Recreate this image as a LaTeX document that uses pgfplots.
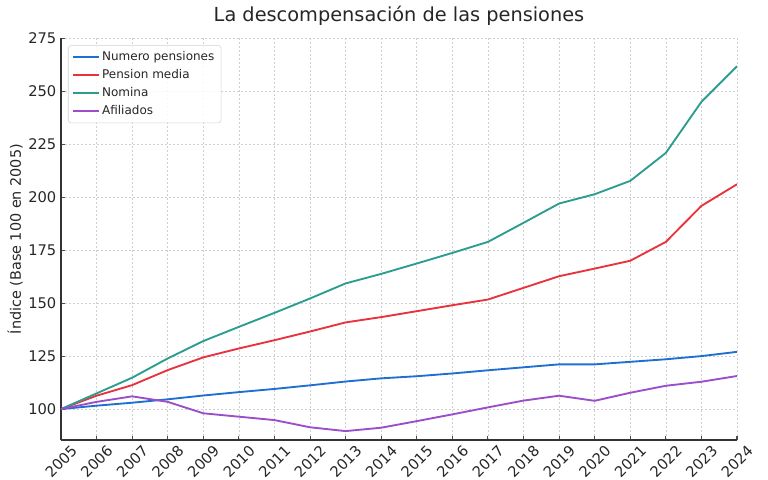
\documentclass[border=0pt]{standalone}
\usepackage{fontspec}
\setmainfont{DejaVu Sans}
\usepackage{pgfplots}
\pgfplotsset{compat=1.18}
\definecolor{cblue}{HTML}{1F6FD0}
\definecolor{cred}{HTML}{E8333F}
\definecolor{cgreen}{HTML}{2A9D8F}
\definecolor{cpurple}{HTML}{9B4DCA}
\definecolor{txt}{HTML}{262626}
\begin{document}
\begin{tikzpicture}
\path[use as bounding box] (-45.75pt,-29.25pt) rectangle (530.25pt,330pt);
\begin{axis}[
  at={(0,0)}, anchor=south west,
  scale only axis, width=507pt, height=301.3pt,
  xmin=2005, xmax=2024, ymin=85.4, ymax=275,
  xtick={2005,2006,...,2024},
  ytick={100,125,...,275},
  /pgf/number format/1000 sep={},
  /pgf/number format/assume math mode=true,
  axis lines*=left,
  axis line style={black!80, line width=1.1pt},
  tick align=inside,
  major tick length=3pt,
  tick style={black!70, line width=0.8pt},
  grid=major,
  grid style={gray!38, dash pattern=on 1.5pt off 1.5pt, line width=0.5pt},
  ticklabel style={font=\fontsize{11}{12.5}\selectfont, text=txt},
  xticklabel style={xshift=7pt, yshift=-3pt, rotate=45, anchor=north east, inner sep=0pt},
  yticklabel style={inner sep=0pt, xshift=-3.3pt},
  title={La descompensación de las pensiones},
  title style={font=\fontsize{14.5}{16}\selectfont, text=txt, at={(0.5,1)}, anchor=base, yshift=6.75pt},
  ylabel={Índice (Base 100 en 2005)},
  ylabel style={font=\fontsize{10.8}{12}\selectfont, text=txt, at={(axis description cs:-0.0592,0.5)}, anchor=base},
  legend style={at={(rel axis cs:0,1)}, anchor=north west, xshift=5.25pt, yshift=-5.25pt,
    draw=gray!35, rounded corners=2pt, fill=white, fill opacity=0.85, text opacity=1,
    font=\fontsize{9}{10.5}\selectfont, text=txt, row sep=1.2pt, inner xsep=3pt, inner ysep=2.5pt},
  legend cell align=left,
  legend image code/.code={\draw[#1, line width=1.4pt] (0pt,0pt) -- (19pt,0pt);},
  every axis plot/.append style={line width=1.4pt},
]
\addplot[cblue] coordinates {
(2005,100) (2006,101.6) (2007,103) (2008,104.6) (2009,106.4) (2010,108) (2011,109.5) (2012,111.2) (2013,113) (2014,114.5)
(2015,115.5) (2016,116.8) (2017,118.3) (2018,119.7) (2019,121.1) (2020,121.1) (2021,122.3) (2022,123.5) (2023,125) (2024,127)
};
\addlegendentry{Numero pensiones}
\addplot[cred] coordinates {
(2005,100) (2006,106.3) (2007,111.3) (2008,118.4) (2009,124.4) (2010,128.6) (2011,132.5) (2012,136.6) (2013,140.9) (2014,143.4)
(2015,146.2) (2016,149) (2017,151.7) (2018,157.2) (2019,162.7) (2020,166.3) (2021,170) (2022,178.9) (2023,195.9) (2024,206.1)
};
\addlegendentry{Pension media}
\addplot[cgreen] coordinates {
(2005,100) (2006,107.4) (2007,114.8) (2008,123.9) (2009,132.1) (2010,138.8) (2011,145.4) (2012,152.2) (2013,159.3) (2014,163.8)
(2015,168.7) (2016,173.7) (2017,178.9) (2018,187.9) (2019,197) (2020,201.4) (2021,207.7) (2022,220.9) (2023,245) (2024,261.8)
};
\addlegendentry{Nomina}
\addplot[cpurple] coordinates {
(2005,100) (2006,103.4) (2007,106) (2008,103.4) (2009,98) (2010,96.4) (2011,94.8) (2012,91.4) (2013,89.6) (2014,91.2)
(2015,94.3) (2016,97.5) (2017,100.8) (2018,104) (2019,106.3) (2020,103.9) (2021,107.7) (2022,111) (2023,112.9) (2024,115.6)
};
\addlegendentry{Afiliados}
\end{axis}
\end{tikzpicture}
\end{document}
